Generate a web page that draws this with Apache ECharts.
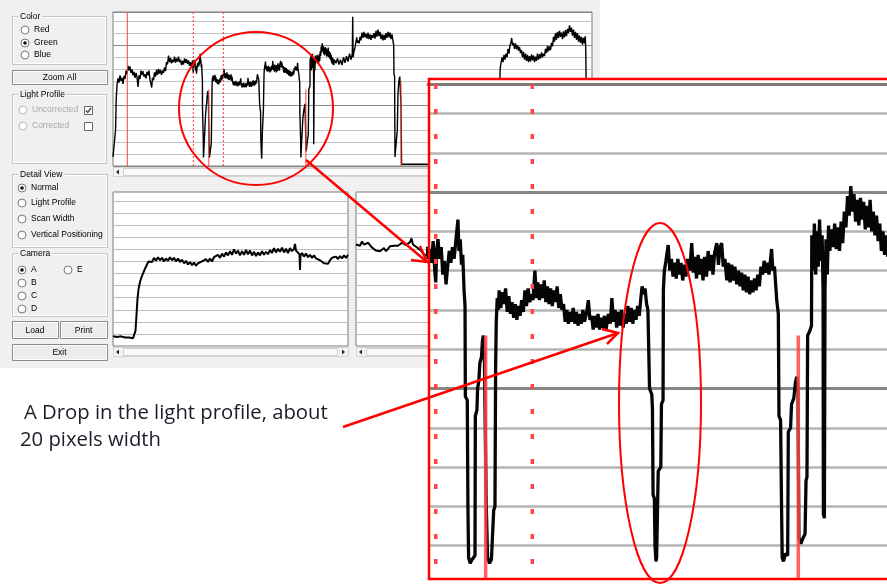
<!DOCTYPE html>
<html><head><meta charset="utf-8">
<script src="https://cdn.jsdelivr.net/npm/echarts/dist/echarts.min.js"></script>
<style>html,body{margin:0;padding:0;background:#fff}#c{width:887px;height:585px}</style>
</head><body><div id="c"></div><script>
// ---------------- DATA (sample index, intensity 0..255) ----------------
const yMax = 255, gridStep = 20, majorStep = 100;

const profileStart = [[0,15],[1,14],[2,16],[2.6,60],[3.2,110],[4,134],[5,145],[6,138],[7,150],[8,141],[9,146],[10,136],[11,149],[12,144],[13,158],[14,152],[15,166],[16,158],[17,165],[18,154],[19,160],[20,150],[21,156],[22,146],[23,154],[24,147],[25,131],[26,150],[27,144],[28,158],[29,151],[30,157],[31,148],[32,152],[33,145],[34,156],[35,150],[36,158],[37,143],[38,140],[38.7,130],[39.5,146],[40.5,142],[41.5,155],[42.5,148],[43.5,159],[44.5,151],[45.5,161],[46.5,153],[47.5,159],[48.5,151],[49.5,158],[50.5,154],[51.5,163],[52.5,157],[53.5,172],[54.5,168],[55.5,183],[56.5,172],[57.5,179],[58.5,170],[59.5,176],[60.5,172],[61.5,181],[62.5,171],[63.5,178],[64.5,173],[65.5,181],[66.5,172],[67.5,176],[68.5,167],[69.5,174],[70.5,168],[71.5,178],[72.5,171],[73.5,177],[74.5,169],[75.5,175],[76.5,166],[77.5,172]];
const profileFirstDrops = [[78,166],[78.5,171],[79,164],[79.5,175],[80,160],[80.3,154],[80.6,170],[81,176],[81.5,166],[82,172],[82.5,158],[83,165],[83.5,153],[84,162],[84.5,170],[85,164],[85.5,172],[86,166],[86.6,176],[87.2,186],[87.5,170],[87.9,176],[88.3,163],[88.7,168],[89.1,150],[89.4,142],[89.5,96],[90.1,94],[90.3,40],[90.5,14],[91,11],[91.6,13],[92.2,12],[92.5,15],[92.6,86],[93.1,89],[93.3,100],[93.7,104],[94,113],[94.5,116],[94.8,124],[95.1,127],[95.4,118],[95.6,90],[96,40],[96.4,14],[97,11],[97.6,13],[98.1,12],[98.3,38],[98.7,40],[98.9,110],[99.1,134],[99.4,146],[99.7,140]];
const profileMiddle = [[100,150],[100.5,141],[101,149],[101.5,143],[102,151],[102.5,139],[103,147],[103.5,138],[104,144],[104.5,136],[105,143],[105.5,135],[106,142],[106.5,137],[107,145],[107.5,139],[108,150],[108.5,142],[109,151],[109.5,144],[110,148],[110.5,145],[111.1,160],[111.6,146],[112,154],[112.5,145],[113,153],[113.5,146],[114,155],[114.5,144],[115,152],[115.5,143],[116,151],[116.5,142],[117,150],[117.5,144],[118,152],[118.5,141],[119,148],[119.5,140],[120,143],[120.5,134],[121,140],[121.5,133],[122,139],[122.5,134],[123,141],[123.5,133],[124,139],[124.5,132],[125,138],[125.5,133],[126,140],[126.5,134],[127.2,139],[127.7,145],[128.2,135],[128.7,137],[129.2,130],[129.7,137],[130.2,131],[130.7,138],[131.2,130],[131.7,136],[132.2,131],[132.7,137],[133.2,130],[133.9,138],[134.5,133],[135,146],[135.5,134],[136,140],[136.5,131],[137,139],[137.5,132],[138,140],[138.5,131],[139,138],[139.5,133],[140,142],[140.5,134],[141,141],[141.5,133],[142,140],[142.5,135],[143,142],[143.5,137],[144,146],[144.4,152],[144.9,148],[145.3,151],[145.8,143],[146.2,140]];
const profileNarrowDrop = [[146.5,139],[146.7,100],[147.4,97],[147.6,90],[147.8,46],[148.2,44],[148.4,20],[148.7,12],[148.9,14],[149.3,13],[149.4,58],[150.2,60],[150.4,92],[150.9,94],[151,150]];
const profilePlateau = [[151.3,160],[151.8,165],[152.5,173],[153,160],[153.5,166],[154,157],[154.5,164],[155,156],[155.5,166],[156,158],[156.5,164],[157,155],[157.5,163],[158,157],[158.5,166],[159.2,160],[159.8,174],[160.3,159],[160.8,167],[161.3,156],[161.8,168],[162.3,158],[162.8,166],[163.3,155],[163.8,167],[164.4,157],[164.9,170],[165.4,160],[165.9,168],[166.4,158],[166.9,169],[167.6,174],[168.1,163],[168.6,172],[169.1,174],[169.6,162],[170.1,166],[170.7,155],[171.2,164],[171.7,154],[172.2,163],[172.7,155],[173.2,162],[173.8,153],[174.3,160],[174.8,152],[175.3,159],[175.8,150],[176.3,158],[176.8,149],[177.3,157],[177.8,148],[178.3,155],[178.8,149],[179.3,156],[179.8,150],[180.3,158],[180.8,152],[181.3,162],[181.8,158],[182.3,165],[182.8,159],[183.3,164],[183.8,158],[184.3,166],[184.6,171],[185,160],[185.5,162],[186,150],[186.2,145]];
const profileSecondDrops = [[186.7,138],[186.9,86],[187.4,84],[187.7,40],[187.9,14],[188.3,12],[188.9,16],[189.6,15],[189.8,78],[190.5,80],[190.8,92],[191.5,95],[192,103],[192.4,106],[192.8,100],[193.1,24],[193.7,21],[194.4,24],[195,26],[195.3,53],[195.6,55],[195.8,127],[196.4,129],[197,132]];
const profileRightBand = [[197.1,178],[197.5,160],[197.9,184],[198.3,158],[198.7,180],[199.1,162],[199.5,186],[199.9,165],[200.3,178],[200.6,150],[200.7,36],[201,34],[201.2,150],[201.5,176],[201.9,158],[202.3,183],[202.7,170],[203.2,181],[203.7,172],[204.2,184],[204.7,171],[205.2,182],[205.7,170],[206.2,185],[206.7,174],[207.2,190],[207.7,182],[208.2,198],[208.7,188],[209.2,203],[209.7,190],[210.2,199],[210.7,185],[211.2,196],[211.7,183],[212.2,197],[212.7,186],[213.2,195],[213.7,181],[214.2,193],[214.7,182],[215.2,196],[215.7,180],[216.2,190],[216.7,178],[217.2,188],[217.7,175],[218.2,184],[218.7,170],[219.2,180],[219.7,168],[220.2,178],[220.7,167]];
const profileTail = [[221.5,176],[223,170],[224.5,178],[226,168],[227.5,176],[229,167],[230.5,180],[232,171],[233.5,182],[235,173],[236.5,186],[238,176],[239.3,186],[239.7,247],[240.1,180],[241,190],[242,196],[243,206],[243.7,213],[244.5,204],[245.3,208],[246.2,203],[247,214],[248,208],[249,221],[250,212],[251,222],[252,213],[253,219],[254,211],[255,221],[256,210],[257,218],[258,209],[259,217],[260,212],[261,220],[262,211],[263,224],[264,214],[265,226],[266,215],[267,222],[268,210],[269,218],[270,208],[271,217],[272,209],[273,220],[274,212],[275,222],[276,213],[277,221],[278,210],[279,218],[280,207],[280.7,200],[281,152],[281.6,148],[282,15],[283,13],[283.8,16],[284.3,60],[285,120],[285.8,140],[286.8,148],[287.6,150],[288,100],[288.6,3],[300,3],[320,3],[350,3],[385,3],[385.8,60],[386.5,120],[387.2,162],[388,170],[389,180],[390,172],[391,184],[392,176],[393,186],[394,180],[395,194],[396,186],[397,200],[398,205],[398.7,212],[399.5,200],[400.5,204],[401.5,194],[402.5,203],[403.5,193],[404.5,200],[405.5,191],[406.5,197],[407.5,187],[408.5,192],[409.5,180],[410.5,189],[411.5,176],[412.5,186],[413.5,174],[414.5,184],[415.5,172],[416.5,182],[417.5,173],[418.5,185],[419.5,175],[420.5,183],[421.5,172],[422.5,181],[423.5,174],[424.5,186],[425.5,176],[426.5,185],[427.5,178],[428.5,188],[429.5,180],[430.5,186],[431.5,182],[432.5,194],[433.5,187],[434.5,199],[435.5,190],[436.5,198],[437.5,192],[438.5,204],[439.5,198],[440.5,214],[441.5,206],[442.5,220],[443.5,209],[444.5,222],[445.5,212],[446.5,224],[447.5,214],[448.5,221],[449.5,210],[450.5,223],[451.5,213],[452.5,225],[453.5,215],[454.5,227],[455.5,220],[456.5,233],[457.5,222],[458.5,229],[459.5,216],[460.5,226],[461.5,212],[462.5,222],[463.5,209],[464.5,220],[465.5,206],[466.5,216],[467.5,204],[468.5,214],[469.5,201],[470.5,212],[471.5,203],[472.3,215],[472.8,190],[473.2,120],[473.6,12],[479,12]];

const detailLeft = [[0,16],[4,15],[8,16],[12,14],[16,14],[20,13],[21.5,12],[22.5,25],[23.5,52],[24.5,78],[25.5,94],[27,106],[28.7,115],[30.5,122],[32,128],[34,135],[35.5,140],[37,143],[39,139],[41,146],[43,141],[45,147],[47,142],[49,146],[51,140],[53,145],[55,141],[57,147],[59,142],[61,146],[63,140],[65,145],[67,139],[69,143],[71,137],[73,141],[75,135],[77,139],[79,134],[81,138],[83,133],[85,137],[87,134],[89,140],[91,137],[93,144],[95,139],[97,145],[99,140],[101,147],[103,144],[105,151],[107,146],[109,153],[111,148],[113,155],[115,150],[117,157],[119,151],[121,160],[123,153],[125,158],[127,150],[129,157],[131,151],[133,159],[135,152],[137,158],[139,150],[141,156],[143,149],[145,155],[147,150],[149,157],[151,151],[153,156],[155,152],[157,159],[159,154],[161,162],[163,155],[165,161],[167,156],[169,163],[171,155],[173,161],[175,154],[177,162],[179,157],[181,161],[182,169],[183,158],[185,155],[186.5,152],[187,126],[187.5,150],[189,154],[191,148],[193,153],[195,147],[197,151],[199,146],[201,150],[203,145],[205,148],[207,142],[209,141],[211,137],[213,140],[215,136],[217,142],[219,146],[221,143],[223,148],[225,144],[227,149],[229,145],[231,150],[233,146],[235,151]];
const detailRight = [[0,168],[2,171],[4,166],[6,173],[8,168],[10,165],[12,171],[14,168],[16,163],[18,160],[20,158],[22,155],[24,157],[26,160],[28,162],[30,157],[32,161],[34,165],[36,162],[38,166],[40,169],[42,166],[44,168],[46,171],[48,168],[50,167],[52,170],[54,172],[55.5,178],[57,168],[59,166],[61,163],[63,162],[65,158],[67,154],[69,150],[72,152],[80,155],[100,158],[140,160],[180,157],[236,158]];

// red markers: [sample, height]
const solidMarkers = [[14.3, 255],[95.8,127],[192.9,127],[288,139]];
const dottedMarkers = [80.3, 110.3];
const insetRange = [77.9, 220.45];

const lightProfile = [].concat(profileStart, profileFirstDrops, profileMiddle, profileNarrowDrop, profilePlateau, profileSecondDrops, profileRightBand, profileTail);

// ---------------- UI ----------------
const UI_FONT = '8.5px "Liberation Sans", Arial, sans-serif';
const g = [];
g.push({type:'rect', z:0, silent:true, shape:{x:0,y:0,width:600,height:368}, style:{fill:'#f0f0f0'}});
function rect(x,y,w,h,style,z){ g.push({type:'rect', z:z||2, silent:true, shape:{x:x,y:y,width:w,height:h}, style:style}); }
function text(x,y,s,extra,z){ g.push({type:'text', z:z||3, silent:true, style:Object.assign({text:s,x:x,y:y,fill:'#000',font:UI_FONT,textAlign:'left',textVerticalAlign:'middle',align:'left',verticalAlign:'middle'}, extra||{})}); }
function radio(x,y,label,sel,dis){
  g.push({type:'circle', z:3, silent:true, shape:{cx:x,cy:y,r:4}, style:{fill:'#fff', stroke: dis?'#b8b8b8':'#7a7a7a', lineWidth:1}});
  if (sel) g.push({type:'circle', z:4, silent:true, shape:{cx:x,cy:y,r:1.8}, style:{fill:'#111'}});
  text(x+9, y, label, {fill: dis?'#a8a8a8':'#000'});
}
function group(x,y,w,h,title){
  rect(x+0.5,y+0.5,w,h,{fill:'none',stroke:'#c4c4c4',lineWidth:1});
  rect(x+1.5,y+1.5,w-2,h-2,{fill:'none',stroke:'#ffffff',lineWidth:1});
  text(x+6, y+1, title, {backgroundColor:'#f0f0f0', padding:[0,2,0,2]}, 4);
}
function button(x,y,w,h,label){
  rect(x+0.5,y+0.5,w,h,{fill:'#ececec',stroke:'#8a8a8a',lineWidth:1});
  rect(x+1.5,y+1.5,w-2,h-2,{fill:'none',stroke:'#ffffff',lineWidth:1});
  text(x+w/2, y+h/2+1, label, {textAlign:'center', align:'center'});
}
function checkbox(x,y,checked){
  rect(x+0.5,y+0.5,8,8,{fill:'#fff',stroke:'#666',lineWidth:1},3);
  if (checked) g.push({type:'polyline', z:4, silent:true, shape:{points:[[x+2,y+4.5],[x+3.8,y+6.5],[x+7,y+2]]}, style:{stroke:'#444',lineWidth:1.3,fill:'none'}});
}
group(12,16,94,48,'Color');
radio(25,30,'Red',false); radio(25,43,'Green',true); radio(25,55,'Blue',false);
button(12,70,95,14,'Zoom All');
group(12,94,94,69,'Light Profile');
radio(23,110,'Uncorrected',false,true); checkbox(84,106,true);
radio(23,126,'Corrected',false,true); checkbox(84,122,false);
group(12,174,95,73,'Detail View');
radio(22,188,'Normal',true); radio(22,203,'Light Profile',false); radio(22,219,'Scan Width',false); radio(22,235,'Vertical Positioning',false);
group(12,253,95,63,'Camera');
radio(22,270,'A',true); radio(68,270,'E',false); radio(22,283,'B',false); radio(22,296,'C',false); radio(22,309,'D',false);
button(12,321,46,17,'Load'); button(60,321,47,17,'Print');
button(12,344,95,16,'Exit');
function scrollbar(x,y,w,right){
  rect(x+0.5,y+0.5,w,9,{fill:'#f4f4f4',stroke:'#d4d4d4',lineWidth:1});
  rect(x+10.5,y+1.5,w-21,7,{fill:'#fafafa',stroke:'#cfcfcf',lineWidth:1});
  g.push({type:'polygon', z:3, silent:true, shape:{points:[[x+3,y+5],[x+6,y+2.5],[x+6,y+7.5]]}, style:{fill:'#222'}});
  if (right) g.push({type:'polygon', z:3, silent:true, shape:{points:[[x+w-3,y+5],[x+w-6,y+2.5],[x+w-6,y+7.5]]}, style:{fill:'#222'}});
}
scrollbar(113,167,479,true);
scrollbar(113,347,235,true);
scrollbar(356,347,236,false);

rect(428,78,459,502,{fill:'#ffffff'},5);
rect(428,580,459,5,{fill:'#ffffff'},8);
rect(429,79,470,500,{fill:'none',stroke:'#ff0000',lineWidth:2.5},9);
const RED = '#ff0000';
g.push({type:'ellipse', z:10, silent:true, shape:{cx:256,cy:108.5,rx:77,ry:76.5}, style:{fill:'none',stroke:RED,lineWidth:2}});
g.push({type:'ellipse', z:10, silent:true, shape:{cx:660,cy:403,rx:41,ry:180}, style:{fill:'none',stroke:RED,lineWidth:2}});
g.push({type:'polyline', z:10, silent:true, shape:{points:[[306,160],[427,262]]}, style:{stroke:RED,lineWidth:2.5,fill:'none'}});
g.push({type:'polyline', z:10, silent:true, shape:{points:[[411,260],[427,262],[420,246]]}, style:{stroke:RED,lineWidth:2.5,fill:'none'}});
g.push({type:'polyline', z:10, silent:true, shape:{points:[[343,427],[618,333]]}, style:{stroke:RED,lineWidth:2.5,fill:'none'}});
g.push({type:'polyline', z:10, silent:true, shape:{points:[[602,329],[618,333],[607,344]]}, style:{stroke:RED,lineWidth:2.5,fill:'none'}});
const NOTE_FONT = '20.3px "Open Sans", Lato, sans-serif';
text(24,413,'A Drop in the light profile, about',{font:NOTE_FONT, fill:'#1c1c2a'},10);
text(20,440,'20 pixels width',{font:NOTE_FONT, fill:'#1c1c2a'},10);

// ---------------- markers as plain vertical line series ----------------
const inR = s => s > insetRange[0] && s < insetRange[1];
function vline(xi, yi, z, color, width, type, from, to){
  return {type:'line', xAxisIndex:xi, yAxisIndex:yi, data:[from, to], z:z, silent:true, showSymbol:false, symbol:'none',
    color:color, itemStyle:{color:color}, lineStyle:{color:color, width:width, type:type}, animation:false};
}
const markerSeriesList = [];
solidMarkers.forEach(m => markerSeriesList.push(vline(0,0,4,'#ff4040',1,'solid',[m[0],0],[m[0],m[1]])));
dottedMarkers.forEach(s => markerSeriesList.push(vline(0,0,4,'#ff3030',1,[2,2],[s,yMax],[s,0])));
solidMarkers.filter(m => inR(m[0])).forEach(m => markerSeriesList.push(vline(3,4,7,'rgba(255,70,70,0.85)',3.5,'solid',[m[0],0],[m[0],m[1]])));
dottedMarkers.filter(inR).forEach(s => markerSeriesList.push(vline(3,4,7,'#ff4545',3.5,[5,20],[s,yMax],[s,0])));

const hidden = {axisLine:{show:false}, axisTick:{show:false}, axisLabel:{show:false}, splitLine:{show:false}};
function yLight(gi, color, width, z){ return Object.assign({}, hidden, {type:'value', gridIndex:gi, min:0, max:yMax, interval:gridStep, z:z||1, splitLine:{show:true, lineStyle:{color:color, width:width}}}); }
function yDark(gi, color, width, z){ return Object.assign({}, hidden, {type:'value', gridIndex:gi, position:'right', min:0, max:yMax, interval:majorStep, z:z||1, splitLine:{show:true, lineStyle:{color:color, width:width}}}); }

const option = {
  animation:false,
  backgroundColor:'#ffffff',
  graphic:{elements:g},
  grid:[
    {left:113, top:12, width:479, height:154, show:true, backgroundColor:'#fff', borderColor:'#7a7a7a', borderWidth:1, z:1},
    {left:113, top:192, width:235, height:154, show:true, backgroundColor:'#fff', borderColor:'#7a7a7a', borderWidth:1, z:1},
    {left:356, top:192, width:236, height:154, show:true, backgroundColor:'#fff', borderColor:'#7a7a7a', borderWidth:1, z:1},
    {left:428, top:84, width:459, height:504, show:false, z:6}
  ],
  xAxis:[
    Object.assign({}, hidden, {type:'value', gridIndex:0, min:0, max:479}),
    Object.assign({}, hidden, {type:'value', gridIndex:1, min:0, max:235}),
    Object.assign({}, hidden, {type:'value', gridIndex:2, min:0, max:236}),
    Object.assign({}, hidden, {type:'value', gridIndex:3, min:insetRange[0], max:insetRange[1], position:'top', z:6, axisLine:{show:true, onZero:false, lineStyle:{color:'#7c7c7c', width:3}}})
  ],
  yAxis:[
    yLight(0,'#c2c2c2',1),
    yDark(0,'#8a8a8a',1),
    yLight(1,'#bcbcbc',1),
    yLight(2,'#bcbcbc',1),
    yLight(3,'#b4b4b4',2.5,6),
    yDark(3,'#868686',3,6)
  ],
  series:[
    {type:'line', xAxisIndex:0, yAxisIndex:0, data:lightProfile, showSymbol:false, symbol:'none', silent:true, z:3, color:'#000', lineStyle:{color:'#000', width:1.4}},
    {type:'line', xAxisIndex:1, yAxisIndex:2, data:detailLeft, showSymbol:false, symbol:'none', silent:true, z:3, color:'#000', lineStyle:{color:'#000', width:2}},
    {type:'line', xAxisIndex:2, yAxisIndex:3, data:detailRight, showSymbol:false, symbol:'none', silent:true, z:3, color:'#000', lineStyle:{color:'#000', width:2}},
    {type:'line', xAxisIndex:3, yAxisIndex:4, data:lightProfile, showSymbol:false, symbol:'none', silent:true, z:7, clip:true, color:'#050505', lineStyle:{color:'#050505', width:3.3}}
  ].concat(markerSeriesList)
};
const chart = echarts.init(document.getElementById('c'), null, {renderer:'canvas'});
chart.setOption(option);
</script></body></html>
